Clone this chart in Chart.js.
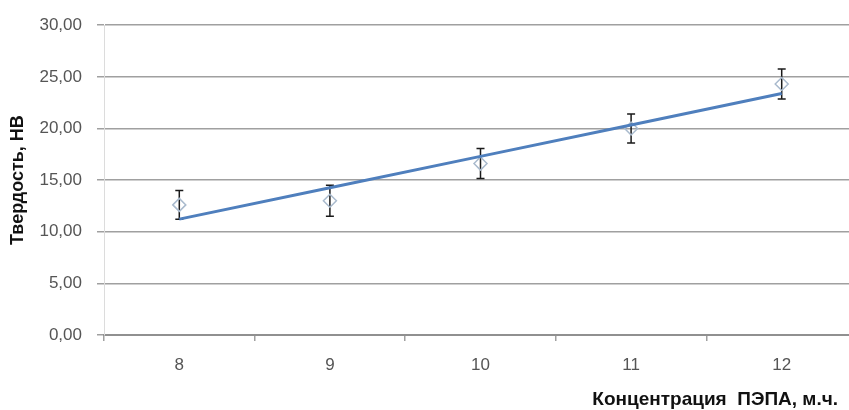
<!DOCTYPE html>
<html>
<head>
<meta charset="utf-8">
<script src="https://cdn.jsdelivr.net/npm/chart.js@4"></script>
<style>
  body { margin: 0; background: #fff; overflow: hidden; }
  #wrap { width: 849px; height: 410px; overflow: hidden; position: relative; }
  #hardness { display: block; position: absolute; left: 0; top: 0; width: 865px; height: 410px; }
</style>
</head>
<body>
<div id="wrap"><canvas id="hardness" width="865" height="410"></canvas></div>
<script>
const categories = ["8", "9", "10", "11", "12"];
const hardness = [12.6, 13.0, 16.6, 20.0, 24.3];
const errors = [1.4, 1.5, 1.45, 1.4, 1.45];
const yTitle = "Твердость, НВ";
const xTitle = "Концентрация  ПЭПА, м.ч.";

// linear trend line (least squares) over the points
const xs = categories.map(Number);
const mx = xs.reduce((a, b) => a + b, 0) / xs.length;
const my = hardness.reduce((a, b) => a + b, 0) / hardness.length;
let sxy = 0, sxx = 0;
xs.forEach((x, i) => { sxy += (x - mx) * (hardness[i] - my); sxx += (x - mx) * (x - mx); });
const slope = sxy / sxx;
const trend = xs.map(x => my + slope * (x - mx));

const errorBars = {
  id: "errorBars",
  beforeDatasetsDraw(chart) {
    const { ctx, scales: { x, y } } = chart;
    ctx.save();
    ctx.strokeStyle = "#1a1a1a";
    ctx.lineWidth = 1.5;
    hardness.forEach((v, i) => {
      const px = x.getPixelForValue(i);
      const top = y.getPixelForValue(v + errors[i]);
      const bot = y.getPixelForValue(v - errors[i]);
      ctx.beginPath();
      ctx.moveTo(px, top); ctx.lineTo(px, bot);
      ctx.moveTo(px - 4, top); ctx.lineTo(px + 4, top);
      ctx.moveTo(px - 4, bot); ctx.lineTo(px + 4, bot);
      ctx.stroke();
    });
    ctx.restore();
  }
};

const xAxisTitle = {
  id: "xAxisTitle",
  afterDraw(chart) {
    const ctx = chart.ctx;
    ctx.save();
    ctx.font = "bold 19px 'Liberation Sans', Arial, sans-serif";
    ctx.fillStyle = "#111";
    ctx.textAlign = "right";
    ctx.textBaseline = "middle";
    ctx.fillText(xTitle, 838, 400);
    ctx.restore();
  }
};

new Chart(document.getElementById("hardness").getContext("2d"), {
  type: "line",
  data: {
    labels: categories,
    datasets: [
      {
        label: "trend",
        data: trend,
        borderColor: "#4f7fbd",
        borderWidth: 3,
        pointRadius: 0,
        fill: false,
        order: 1
      },
      {
        label: "Твердость",
        data: hardness,
        showLine: false,
        pointStyle: "rectRot",
        pointRadius: 6.5,
        pointBackgroundColor: "rgba(255,255,255,0)",
        pointBorderColor: "#a9bacd",
        pointBorderWidth: 1.5,
        order: 2
      }
    ]
  },
  options: {
    responsive: false,
    maintainAspectRatio: false,
    animation: false,
    layout: { padding: { top: 24, right: 0, bottom: 0, left: 0 } },
    plugins: {
      legend: { display: false },
      tooltip: { enabled: false }
    },
    scales: {
      x: {
        offset: true,
        grid: {
          offset: true,
          drawOnChartArea: false,
          drawTicks: true,
          tickLength: 6,
          color: "#a0a0a0",
          lineWidth: 1.5
        },
        border: { display: true, color: "#909090", width: 2 },
        ticks: {
          color: "#555",
          padding: 14,
          font: { family: "'Liberation Sans', Arial, sans-serif", size: 17 }
        },
        afterFit(scale) { scale.height = 75; }
      },
      y: {
        min: 0,
        max: 30,
        ticks: {
          stepSize: 5,
          color: "#555",
          padding: 15,
          font: { family: "'Liberation Sans', Arial, sans-serif", size: 17 },
          callback: v => v.toFixed(2).replace(".", ",")
        },
        grid: { color: "#a0a0a0", lineWidth: 1.5, tickLength: 7 },
        border: { display: true, color: "#dcdcdc", width: 1 },
        title: {
          display: true,
          text: yTitle,
          color: "#111",
          padding: { top: 7, bottom: 0 },
          font: { family: "'Liberation Sans', Arial, sans-serif", size: 18, weight: "bold" }
        },
        afterFit(scale) { scale.width = 104; }
      }
    }
  },
  plugins: [errorBars, xAxisTitle]
});
</script>
</body>
</html>
